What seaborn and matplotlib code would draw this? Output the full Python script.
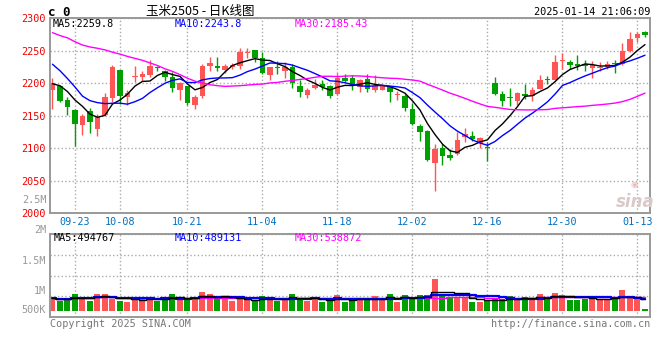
import numpy as np
import pandas as pd
import matplotlib
matplotlib.use('Agg')
import matplotlib.pyplot as plt
import seaborn as sns
from matplotlib.ticker import LinearLocator

# Daily K-line of 玉米2505
opens = [2189, 2195, 2173.5, 2158.5, 2135, 2157, 2130, 2150.5, 2177, 2219.5,
         2178.5, 2209, 2209, 2212, 2224, 2219, 2209, 2189, 2195, 2166,
         2180, 2225.5, 2227, 2219.5, 2224.5, 2226, 2246, 2250.5, 2239, 2212,
         2224, 2218.5, 2224.5, 2195, 2181, 2192.5, 2198, 2195, 2183, 2208,
         2208, 2194, 2206.5, 2189, 2189, 2194, 2182, 2179.5, 2160, 2134,
         2127, 2078, 2100, 2089.5, 2090.5, 2117.5, 2118.5, 2108.5, 2102.5, 2200.5,
         2183, 2178, 2172.5, 2184, 2179.5, 2191.5, 2205.5, 2205.5, 2234, 2233,
         2229.5, 2229.5, 2223, 2223, 2224.5, 2231, 2229.5, 2249, 2269, 2279]
highs = [2208, 2196, 2178.5, 2159.5, 2153, 2161, 2152, 2185, 2228, 2220,
         2190, 2227, 2218, 2236, 2227, 2220.5, 2217, 2202, 2196, 2182,
         2229, 2240, 2240, 2230, 2230.5, 2253.5, 2253.5, 2251, 2248.5, 2225,
         2234.5, 2233, 2229.5, 2204, 2192.5, 2206.5, 2204, 2196.5, 2216, 2214.5,
         2213, 2207, 2214.5, 2213, 2196.5, 2195.5, 2187.5, 2183.5, 2169.5, 2136.5,
         2128, 2106.5, 2106.5, 2098.5, 2125, 2130.5, 2126.5, 2117.5, 2110, 2209,
         2187.5, 2192.5, 2186.5, 2199, 2194, 2212, 2210.5, 2243.5, 2246.5, 2236,
         2242.5, 2236, 2234.5, 2232, 2234.5, 2236, 2261.5, 2279, 2279, 2279.5]
lows = [2160, 2171, 2150.5, 2104, 2121, 2123, 2118, 2149.5, 2171, 2168,
        2167, 2202, 2203, 2210, 2218, 2203, 2186, 2173.5, 2166, 2160,
        2177, 2218, 2218, 2216, 2221, 2221, 2238.5, 2232, 2214.5, 2204,
        2214.5, 2208, 2193, 2178.5, 2177, 2190.5, 2189, 2177, 2181, 2201.5,
        2189.5, 2186, 2186, 2186, 2189, 2171, 2174.5, 2157.5, 2135.5, 2111.5,
        2081, 2033.5, 2074.5, 2082, 2089.5, 2110, 2111, 2100, 2081, 2181,
        2165, 2165, 2167, 2176, 2172, 2190.5, 2199, 2204, 2222, 2221,
        2219.5, 2218, 2207.5, 2218, 2222, 2216, 2228, 2247.5, 2262.5, 2270.5]
closes = [2200, 2172, 2163, 2137.5, 2149, 2140, 2148, 2178, 2224, 2180,
          2185, 2210, 2214, 2227, 2223, 2209, 2192.5, 2200, 2169, 2178,
          2227, 2230.5, 2223, 2227, 2228, 2247.5, 2247, 2238.5, 2216, 2224.5,
          2223, 2224.5, 2200, 2186.5, 2189, 2197.5, 2194, 2180, 2208, 2203,
          2196, 2205, 2190.5, 2195.5, 2195.5, 2186.5, 2183, 2162, 2137, 2125,
          2082, 2099, 2088.5, 2085.5, 2112.5, 2121.5, 2114, 2115, 2101, 2184,
          2172.5, 2177, 2185, 2180, 2189, 2204, 2204.5, 2233, 2235, 2228,
          2225.5, 2225.5, 2228, 2224, 2229.5, 2229, 2250, 2267, 2275.5, 2274]
volumes = [518, 409, 518, 681, 559, 409, 681, 681, 477, 409,
           354, 518, 477, 559, 409, 518, 681, 559, 450, 477,
           763, 681, 518, 477, 409, 491, 423, 423, 600, 491,
           409, 518, 681, 518, 409, 518, 354, 477, 627, 354,
           450, 450, 518, 600, 450, 681, 354, 641, 559, 641,
           641, 1294, 641, 559, 559, 559, 354, 354, 450, 477,
           477, 600, 477, 559, 477, 681, 477, 722, 641, 450,
           450, 477, 600, 477, 477, 477, 845, 600, 477, 69]
volumes = [v * 1000 for v in volumes]

# moving-average values before the window fills (earlier data not shown)
ma5_head = [2199, 2196, 2187, 2174]
ma10_head = [2229, 2219, 2207, 2194, 2180, 2173, 2170, 2168.5, 2169]
ma30_head = [2277.5, 2273, 2269.5, 2263.5, 2258.5, 2255.5, 2253.5, 2251, 2247.5, 2244.5,
             2241, 2238, 2235, 2231, 2227, 2222, 2218, 2213, 2207.5, 2203,
             2200, 2197.5, 2196, 2195, 2195.5, 2196, 2197, 2198, 2198.5]

date_labels = ['09-23', '10-08', '10-21', '11-04', '11-18', '12-02', '12-16', '12-30', '01-13']
date_pos = [3, 9, 18, 28, 38, 48, 58, 68, 78]

RED = '#ff5555'
GREEN = '#00a000'
MONO = 'DejaVu Sans Mono'

df = pd.DataFrame({'open': opens, 'high': highs, 'low': lows,
                   'close': closes, 'volume': volumes})
df['x'] = np.arange(len(df))
df['up'] = df['close'] >= df['open']


def moving_avg(s, n, head):
    ma = s.rolling(n).mean()
    ma.iloc[:len(head)] = head
    return ma


df['ma5'] = moving_avg(df['close'], 5, ma5_head)
df['ma10'] = moving_avg(df['close'], 10, ma10_head)
df['ma30'] = moving_avg(df['close'], 30, ma30_head)
df['vma5'] = df['volume'].rolling(5, min_periods=1).mean()
df['vma10'] = df['volume'].rolling(10, min_periods=1).mean()
df['vma30'] = df['volume'].rolling(30, min_periods=1).mean()

sns.set_theme(style='white')
plt.rcParams['font.family'] = [MONO, 'DejaVu Sans']

fig = plt.figure(figsize=(6.6, 3.6), dpi=100)
W, H = 660, 360


def px(x, y):
    return x / W, 1 - y / H


ax = fig.add_axes([50 / W, 1 - 213.3 / H, 600 / W, (213.3 - 18) / H])
axv = fig.add_axes([50 / W, 1 - 317 / H, 600 / W, 83 / H])

colors = np.where(df['up'], RED, GREEN)

# candles
ax.vlines(df['x'], df['low'], df['high'], colors=colors, lw=1, zorder=2)
body_low = np.minimum(df['open'], df['close'])
body_h = np.maximum((df['close'] - df['open']).abs(), 1.3)
ax.bar(df['x'], body_h, bottom=body_low, width=0.75, color=colors, linewidth=0, zorder=2)

sns.lineplot(x=df['x'], y=df['ma5'], ax=ax, color='black', lw=1, zorder=3)
sns.lineplot(x=df['x'], y=df['ma10'], ax=ax, color='#0000ff', lw=1, zorder=3)
sns.lineplot(x=df['x'], y=df['ma30'], ax=ax, color='#ff00ff', lw=1, zorder=3)

# volume
axv.bar(df['x'], df['volume'], width=0.8, color=colors, linewidth=0, zorder=2)
axv.plot(df['x'], df['vma30'], color='#ff00ff', lw=1, drawstyle='steps-mid', zorder=3)
axv.plot(df['x'], df['vma10'], color='#0000ff', lw=1.6, drawstyle='steps-mid', zorder=3)
axv.plot(df['x'], df['vma5'], color='black', lw=1, drawstyle='steps-mid', zorder=4)

for a in (ax, axv):
    a.set_xlim(-0.33, 79.67)
    a.set_xticks(date_pos)
    a.grid(True, ls=':', color='#aaaaaa', lw=1)
    a.set_xlabel('')
    a.set_ylabel('')
    for s in a.spines.values():
        s.set_color('#999999')
        s.set_linewidth(1.4)
    a.tick_params(length=0)

ax.set_ylim(2000, 2300)
ax.set_yticks(range(2000, 2301, 50))
ax.set_yticklabels([str(v) for v in range(2000, 2301, 50)], color='#ee0000', fontsize=7.3)
ax.set_xticklabels(date_labels, color='#0070c0', fontsize=7.3)
ax.tick_params(axis='y', pad=3)
ax.tick_params(axis='x', pad=2.5)

axv.set_ylim(-257e3, 3.13e6)
axv.yaxis.set_major_locator(LinearLocator(5))
axv.set_yticklabels([])
axv.set_xticklabels([])

# header texts
fig.text(*px(48, 12), 'c 0', ha='left', va='center', fontsize=9, fontweight='bold', color='black')
fig.text(*px(200, 11), '玉米2505 - 日K线图', ha='center', va='center', fontsize=9,
         family=['Noto Sans CJK SC', 'DejaVu Sans'], color='black')
fig.text(*px(650, 12), '2025-01-14 21:06:09', ha='right', va='center', fontsize=7.4, color='black')

fig.text(*px(53, 24), 'MA5:2259.8', ha='left', va='center', fontsize=7.3, color='black')
fig.text(*px(175, 24), 'MA10:2243.8', ha='left', va='center', fontsize=7.3, color='#0000ff')
fig.text(*px(295, 24), 'MA30:2185.43', ha='left', va='center', fontsize=7.3, color='#ff00ff')
fig.text(*px(47, 200), '2.5M', ha='right', va='center', fontsize=7.3, color='#999999')

fig.text(*px(54, 238), 'MA5:494767', ha='left', va='center', fontsize=7.3, color='black')
fig.text(*px(175, 238), 'MA10:489131', ha='left', va='center', fontsize=7.3, color='#0000ff')
fig.text(*px(295, 238), 'MA30:538872', ha='left', va='center', fontsize=7.3, color='#ff00ff')

for lab, yy in [('2M', 230), ('1.5M', 261), ('1M', 290.7), ('500K', 310)]:
    fig.text(*px(46, yy), lab, ha='right', va='center', fontsize=7.3, color='#999999')

fig.text(*px(50, 324), 'Copyright 2025 SINA.COM', ha='left', va='center', fontsize=7.3, color='#777777')
fig.text(*px(650, 324), 'http://finance.sina.com.cn', ha='right', va='center', fontsize=7.3, color='#777777')

# watermark
fig.text(*px(634, 185), '◉', ha='center', va='center', fontsize=6, color='#f0b8b8', family='DejaVu Sans')
fig.text(*px(635, 202), 'sina', ha='center', va='center', fontsize=12, fontstyle='italic',
         fontweight='bold', color='#d9c9c9', family='DejaVu Sans')

fig.savefig('out.png', dpi=100)
